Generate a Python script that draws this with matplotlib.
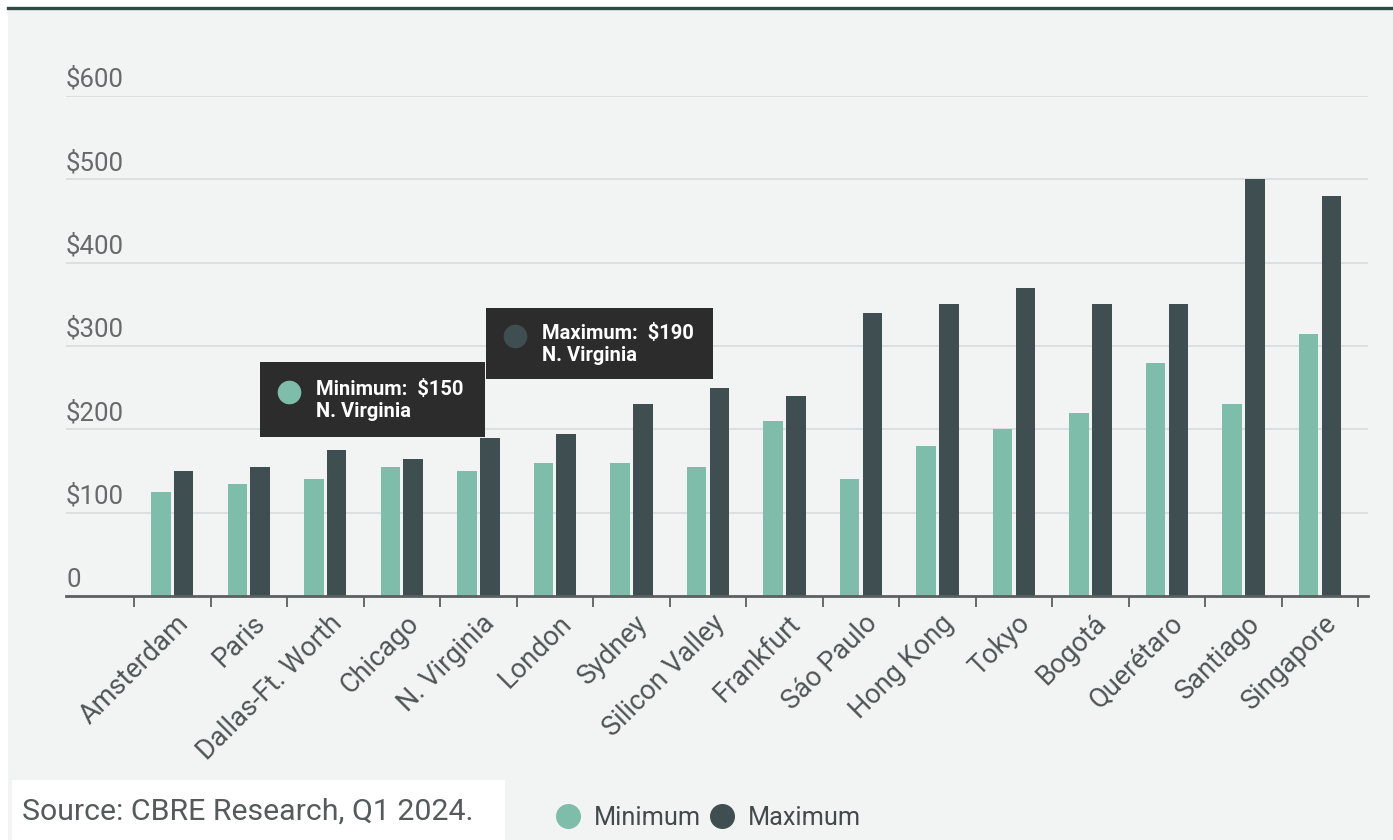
import numpy as np
import matplotlib
matplotlib.use("Agg")
import matplotlib.pyplot as plt
from matplotlib.patches import Rectangle
from matplotlib.lines import Line2D
from matplotlib.ticker import FixedLocator

plt.rcParams['font.family'] = ['Roboto', 'DejaVu Sans']

markets = ['Amsterdam', 'Paris', 'Dallas-Ft. Worth', 'Chicago', 'N. Virginia',
           'London', 'Sydney', 'Silicon Valley', 'Frankfurt', 'Sáo Paulo',
           'Hong Kong', 'Tokyo', 'Bogotá', 'Querétaro', 'Santiago', 'Singapore']
minimum = [125, 135, 140, 155, 150, 160, 160, 155, 210, 140, 180, 200, 220, 280, 230, 315]
maximum = [150, 155, 175, 165, 190, 195, 230, 250, 240, 340, 350, 370, 350, 350, 500, 480]
y_ticks = [0, 100, 200, 300, 400, 500, 600]
y_labels = ['0', '$100', '$200', '$300', '$400', '$500', '$600']

MIN_C = '#7fbdab'
MAX_C = '#3f4f51'
BG = '#f2f4f4'
W, H = 1393, 840


def fx(x):
    return x / W


def fy(y):
    return 1 - y / H


fig = plt.figure(figsize=(W / 100, H / 100), dpi=100, facecolor='white')
fig.patches.append(Rectangle((fx(8), 0), 1 - fx(8), fy(9), transform=fig.transFigure,
                             facecolor=BG, edgecolor='none', zorder=-2))
fig.add_artist(Line2D([fx(8), 1], [fy(8), fy(8)], color='#2f4945', lw=2.4, zorder=-1))

ax = fig.add_axes([fx(66), fy(596), fx(1368) - fx(66), fy(96) - fy(596)])
ax.set_facecolor('none')
ax.set_zorder(1)

x = np.arange(len(markets))
bw = 0.255
ax.bar(x - 0.147, minimum, bw, color=MIN_C, zorder=3)
ax.bar(x + 0.15, maximum, bw, color=MAX_C, zorder=3)

ax.set_xlim(-1.389, 15.63)
ax.set_ylim(0, 600)

# horizontal grid with labels sitting on top of each line
for v, lab in zip(y_ticks, y_labels):
    if v > 0:
        ax.axhline(v, color='#dadddd', lw=1.3, zorder=1)
    ax.text(0, v + 5, lab, transform=ax.get_yaxis_transform(), ha='left', va='bottom',
            fontsize=18.5, color='#666a6a')
ax.set_yticks([])

for s in ['top', 'right', 'left']:
    ax.spines[s].set_visible(False)
ax.spines['bottom'].set_color('#5a6060')
ax.spines['bottom'].set_linewidth(2)
ax.spines['bottom'].set_zorder(4)

ax.set_xticks(x)
ax.set_xticklabels(markets, rotation=45, ha='right', rotation_mode='anchor',
                   fontsize=19.5, color='#4f5555')
ax.tick_params(axis='x', which='major', length=0, pad=10)
ax.xaxis.set_minor_locator(FixedLocator(np.arange(-0.5, len(markets), 1)))
ax.tick_params(axis='x', which='minor', length=8, width=1.3, color='#5a6060')
for lab in ax.get_xticklabels():
    lab.set_transform(lab.get_transform() + matplotlib.transforms.ScaledTranslation(
        3 / 100, 0, fig.dpi_scale_trans))

# hover tooltips for N. Virginia
i = markets.index('N. Virginia')
tips = [
    ((260, 362, 485, 437), MIN_C, f'Minimum:  ${minimum[i]}'),
    ((486, 308, 713, 379), MAX_C, f'Maximum:  ${maximum[i]}'),
]
for (x0, y0, x1, y1), col, txt in tips:
    fig.patches.append(Rectangle((fx(x0), fy(y1)), fx(x1 - x0), (y1 - y0) / H,
                                 transform=fig.transFigure, facecolor='#2c2c2c',
                                 edgecolor='none', zorder=5))
    cy = (y0 + y1) / 2
    fig.add_artist(Line2D([fx(x0 + 29)], [fy(cy - 8)], marker='o', markersize=16,
                          color=col, zorder=6))
    fig.text(fx(x0 + 56), fy(cy - 10), txt, ha='left', va='center', fontsize=14.5,
             fontweight='bold', color='white', zorder=6)
    fig.text(fx(x0 + 56), fy(cy + 12), markets[i], ha='left', va='center', fontsize=14.5,
             fontweight='bold', color='white', zorder=6)

# source note
fig.patches.append(Rectangle((fx(12), 0), fx(505 - 12), fy(780), transform=fig.transFigure,
                             facecolor='white', edgecolor='none', zorder=0))
fig.text(fx(22), fy(812), 'Source: CBRE Research, Q1 2024.', ha='left', va='center',
         fontsize=21.8, color='#555a5a')

handles = [Line2D([], [], marker='o', ls='', markersize=17, color=MIN_C),
           Line2D([], [], marker='o', ls='', markersize=17, color=MAX_C)]
fig.legend(handles, ['Minimum', 'Maximum'], loc='center left',
           bbox_to_anchor=(fx(535), fy(818)), ncol=2, frameon=False, fontsize=18.2,
           handlelength=0.8, handletextpad=0.62, columnspacing=0.45, labelcolor='#444a4a')

fig.savefig('out.png', dpi=100, facecolor='white')
